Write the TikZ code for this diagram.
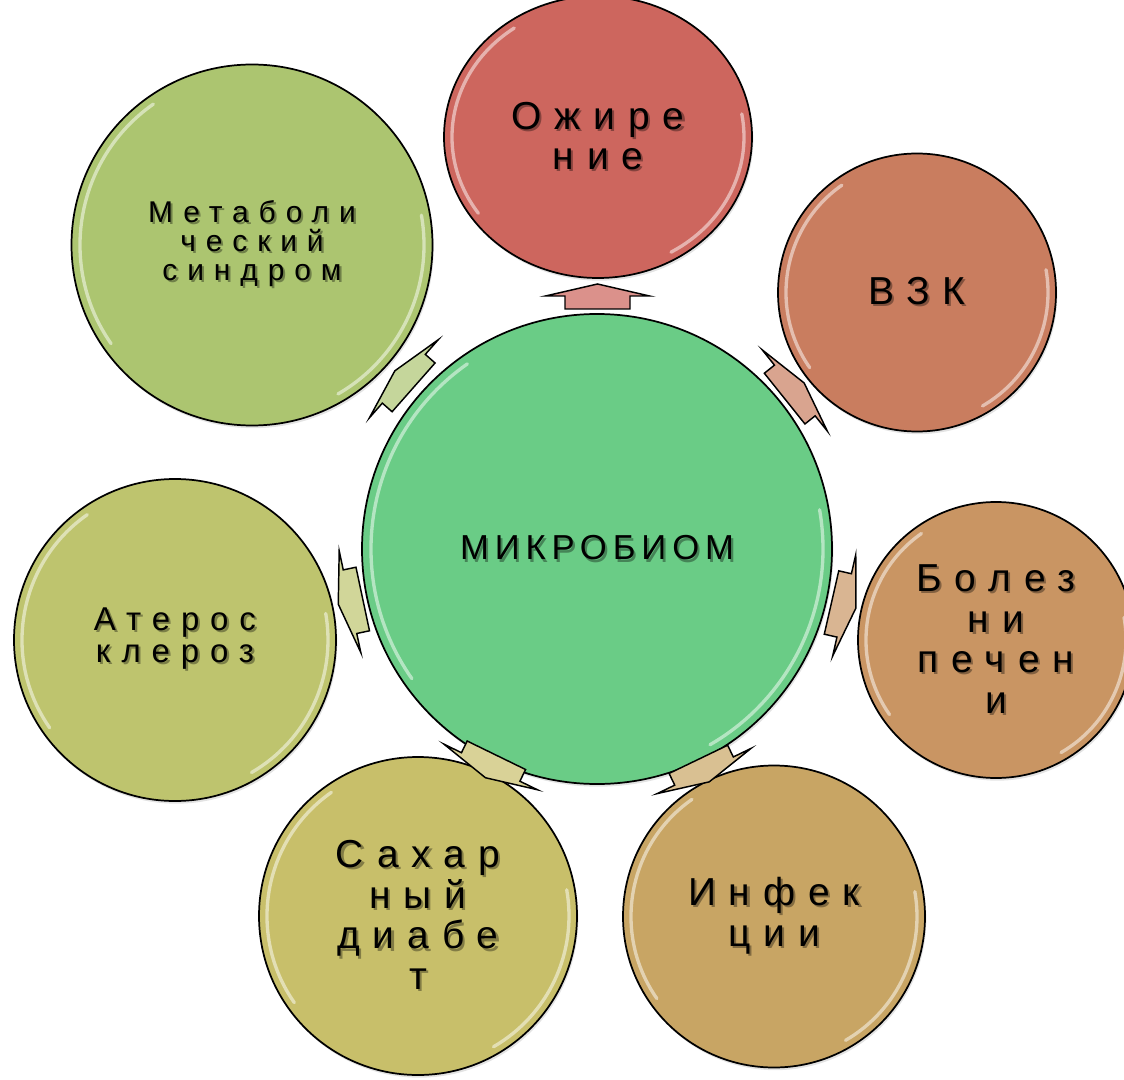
\documentclass[tikz,border=0pt]{standalone}
\usepackage{fontspec}
\setmainfont{Liberation Sans}
\newfontfamily\widefont[LetterSpace=33]{Liberation Sans}
\newfontfamily\midfont[LetterSpace=17]{Liberation Sans}
\usetikzlibrary{shapes.geometric,shadows}
\definecolor{cmid}{RGB}{106,204,134}
\definecolor{coz}{RGB}{205,102,94}
\definecolor{cvzk}{RGB}{201,125,95}
\definecolor{cliv}{RGB}{201,149,99}
\definecolor{cinf}{RGB}{200,165,100}
\definecolor{cdia}{RGB}{200,191,106}
\definecolor{cath}{RGB}{190,196,110}
\definecolor{cmet}{RGB}{172,197,112}
\newcommand\sh[1]{\rlap{\hspace{1.6pt}\raisebox{-1.6pt}{\pgfsetfillopacity{0.35}#1\pgfsetfillopacity{1}}}#1}
\tikzset{
  bubble/.style={ellipse, draw=black, line width=1.3pt, inner sep=0pt, align=center,
    text=black, drop shadow={opacity=0.22, shadow xshift=1pt, shadow yshift=-2pt}},
  hl/.style={white, opacity=0.5, line width=2.5pt, line cap=round},
  big/.style={font=\widefont\fontsize{29.25}{30.5}\selectfont},
  blockarrow/.pic={\draw[pic actions, draw=black, line width=1.1pt, line join=miter]
    (-12.5,-32.5) -- (0.5,-32.5) -- (0.5,-52) -- (12.5,0) -- (0.5,52) -- (0.5,32.5) -- (-12.5,32.5) -- cycle;}
}
\newcommand\glosshl[3]{%
  \draw[hl, shift={(#1.center)}] (125:#2 and #3) arc[start angle=125, end angle=215, x radius=#2, y radius=#3];
  \draw[hl, shift={(#1.center)}] (-60:#2 and #3) arc[start angle=-60, end angle=10, x radius=#2, y radius=#3];}
\begin{document}
\begin{tikzpicture}[x=0.75pt, y=0.75pt]
\useasboundingbox (0,0) rectangle (1124,-1080);
% central
\node[bubble, fill=cmid, minimum width=352.5pt, minimum height=352.5pt,
  font=\midfont\fontsize{26}{28}\selectfont] (mid) at (597,-549) {\sh{МИКРОБИОМ}};
% outer
\node[bubble, fill=coz, minimum width=231pt, minimum height=211.5pt, big] (oz) at (598,-137) {\sh{Ожире}\\\sh{ние}};
\node[bubble, fill=cvzk, minimum width=208.5pt, minimum height=208.5pt, big] (vzk) at (917,-292.5) {\sh{ВЗК}};
\node[bubble, fill=cliv, minimum width=207pt, minimum height=207pt, big] (liv) at (996,-640) {\sh{Болез}\\\sh{ни}\\\sh{печен}\\\sh{и}};
\node[bubble, fill=cinf, minimum width=226.5pt, minimum height=226.5pt, big] (inf) at (774,-916.5) {\sh{Инфек}\\\sh{ции}};
\node[bubble, fill=cdia, minimum width=238.5pt, minimum height=238.5pt, big] (dia) at (418,-916) {\sh{Сахар}\\\sh{ный}\\\sh{диабе}\\\sh{т}};
\node[bubble, fill=cath, minimum width=241.5pt, minimum height=241.5pt,
  font=\widefont\fontsize{24.75}{24}\selectfont] (ath) at (175,-640) {\sh{Атерос}\\\sh{клероз}};
\node[bubble, fill=cmet, minimum width=270.75pt, minimum height=270.75pt,
  font=\widefont\fontsize{22.5}{21.75}\selectfont] (met) at (252,-245) {\sh{Метаболи}\\\sh{ческий}\\\sh{синдром}};
% gloss
\glosshl{mid}{226}{226}
\glosshl{oz}{146}{133}
\glosshl{vzk}{131}{131}
\glosshl{liv}{130}{130}
\glosshl{inf}{143}{143}
\glosshl{dia}{151}{151}
\glosshl{ath}{153}{153}
\glosshl{met}{172}{172}
% arrows
\pic[fill=coz!72!white, rotate=90] (a1) at (597.5,-296.5) {blockarrow};
\pic[fill=cvzk!70!white, rotate=38.7] (a2) at (794.4,-390.8) {blockarrow};
\pic[fill=cliv!70!white, rotate=-12.85] (a3) at (843.7,-605.3) {blockarrow};
\pic[fill=cinf!70!white, rotate=-64.3] (a4) at (703.8,-770.6) {blockarrow};
\pic[fill=cdia!70!white, rotate=244] (a5) at (490.9,-766.5) {blockarrow};
\pic[fill=cath!70!white, rotate=192] (a6) at (350.5,-601.6) {blockarrow};
\pic[fill=cmet!70!white, rotate=138.6] (a7) at (404.2,-379.1) {blockarrow};
\end{tikzpicture}
\end{document}
